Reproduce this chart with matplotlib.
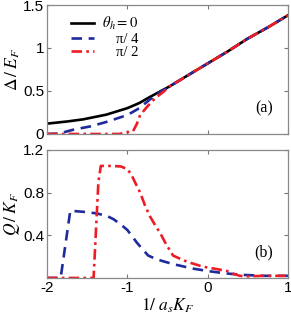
import matplotlib
matplotlib.use('Agg')
import matplotlib.pyplot as plt

# panel (a): gap vs 1/(a_s K_F)
x_a0 = [-2.0, -1.75, -1.55, -1.26, -1.0, -0.85, -0.72, -0.6, -0.47, -0.25, 0.0, 0.25, 0.5, 0.75, 1.0]
y_a0 = [0.12, 0.145, 0.17, 0.225, 0.30, 0.36, 0.43, 0.49, 0.555, 0.68, 0.82, 0.96, 1.11, 1.24, 1.38]
x_a1 = [-2.0, -1.84, -1.75, -1.67, -1.45, -1.26, -1.0, -0.85, -0.72, -0.6, -0.47, -0.25, 0.0, 0.25, 0.5, 0.75, 1.0]
y_a1 = [0.0, 0.005, 0.03, 0.05, 0.09, 0.14, 0.22, 0.30, 0.40, 0.48, 0.555, 0.68, 0.82, 0.96, 1.11, 1.24, 1.38]
x_a2 = [-2.0, -1.5, -1.1, -1.0, -0.93, -0.88, -0.84, -0.75, -0.655, -0.55, -0.47, -0.25, 0.0, 0.25, 0.5, 0.75, 1.0]
y_a2 = [0.0, 0.0, 0.0, 0.02, 0.03, 0.12, 0.22, 0.32, 0.415, 0.49, 0.555, 0.68, 0.82, 0.96, 1.11, 1.24, 1.38]

# panel (b): Q vs 1/(a_s K_F)
x_b1 = [-2.0, -1.83, -1.71, -1.55, -1.38, -1.25, -1.17, -1.08, -1.0, -0.94, -0.88, -0.8, -0.74,
        -0.65, -0.57, -0.43, -0.2, 0.0, 0.2, 0.4, 0.7, 1.0]
y_b1 = [0.0, 0.0, 0.63, 0.62, 0.605, 0.58, 0.55, 0.50, 0.45, 0.39, 0.33, 0.26, 0.21,
        0.18, 0.16, 0.13, 0.09, 0.065, 0.045, 0.03, 0.02, 0.02]
x_b2 = [-2.0, -1.6, -1.42, -1.36, -1.33, -1.2, -1.08, -1.0, -0.95, -0.9, -0.84, -0.78, -0.72,
        -0.65, -0.59, -0.52, -0.43, -0.3, -0.22, -0.1, 0.0, 0.1, 0.24, 0.32, 0.4, 0.5, 0.7, 1.0]
y_b2 = [0.0, 0.0, 0.0, 0.9, 1.05, 1.05, 1.045, 1.02, 0.97, 0.89, 0.80, 0.68, 0.58,
        0.49, 0.42, 0.32, 0.21, 0.165, 0.143, 0.115, 0.097, 0.085, 0.065, 0.04, 0.02, 0.015, 0.02, 0.02]

labels = [r'$\theta_h = 0$', '\u03c0/ 4', '\u03c0/ 2']

plt.rcParams['mathtext.fontset'] = 'stix'
plt.rcParams['font.family'] = 'Liberation Sans'

fig = plt.figure(figsize=(2.91, 3.13), dpi=100)
ax1 = fig.add_axes([0.1615, 0.572, 0.828, 0.412])
ax2 = fig.add_axes([0.1615, 0.112, 0.828, 0.409])

black = '#000000'
blue = '#1f2a9c'
red = '#ee1c25'
lw = 1.9
dash_b = (4, 2.5)
dash_r = (4, 1.6, 1, 1.6)

ax1.plot(x_a0, y_a0, '-', color=black, lw=lw, label=labels[0])
ax1.plot(x_a1, y_a1, color=blue, lw=lw, dashes=dash_b, label=labels[1])
ax1.plot(x_a2, y_a2, color=red, lw=lw, dashes=dash_r, label=labels[2])

ax2.plot(x_b1, y_b1, color=blue, lw=lw, dashes=dash_b)
ax2.plot(x_b2, y_b2, color=red, lw=lw, dashes=dash_r)

for ax in (ax1, ax2):
    ax.set_xlim(-2, 1)
    ax.set_xticks([-2, -1, 0, 1])
    ax.tick_params(direction='in', length=3, color='#777777', labelsize=11,
                   top=True, right=True, pad=2)
    for s in ax.spines.values():
        s.set_color('#888888')
        s.set_linewidth(0.9)

ax1.set_ylim(0, 1.5)
ax1.set_yticks([0, 0.5, 1, 1.5])
ax1.set_yticklabels(['0', '0.5', '1', '1.5'])
ax1.set_xticklabels([])
ax1.set_ylabel(r'$\Delta\,/\;E_F$', fontsize=12.5, labelpad=1)
ax1.text(0.9, 0.2, '(a)', transform=ax1.transAxes, fontsize=11.5,
         family='Liberation Serif', ha='center', va='center')

# legend: handles from the legend, labels right aligned next to them
leg = ax1.legend(loc='upper left', bbox_to_anchor=(0.075, 0.965), frameon=False,
                 prop={'family': 'Liberation Serif', 'size': 10.5},
                 handlelength=1.6, handletextpad=0.8,
                 labelspacing=0.0, borderaxespad=0.0)
fig.canvas.draw()
for t, lab in zip(leg.get_texts(), labels):
    bb = t.get_window_extent()
    yc = ax1.transAxes.inverted().transform((0, (bb.y0 + bb.y1) / 2))[1]
    t.set_visible(False)
    ax1.text(0.379, yc, lab, transform=ax1.transAxes, ha='right', va='center',
             family='Liberation Serif', fontsize=10.5)

ax2.set_ylim(0, 1.2)
ax2.set_yticks([0.4, 0.8, 1.2])
ax2.set_yticklabels(['0.4', '0.8', '1.2'])
ax2.set_xticklabels(['-2', '-1', '0', '1'])
ax2.set_ylabel(r'$Q\,/\;K_F$', fontsize=12.5, labelpad=1)
ax2.set_xlabel(r'$1/\ a_s K_F$', fontsize=12.5, labelpad=1)
ax2.text(0.9, 0.2, '(b)', transform=ax2.transAxes, fontsize=11.5,
         family='Liberation Serif', ha='center', va='center')

fig.savefig('out.png', dpi=100)
